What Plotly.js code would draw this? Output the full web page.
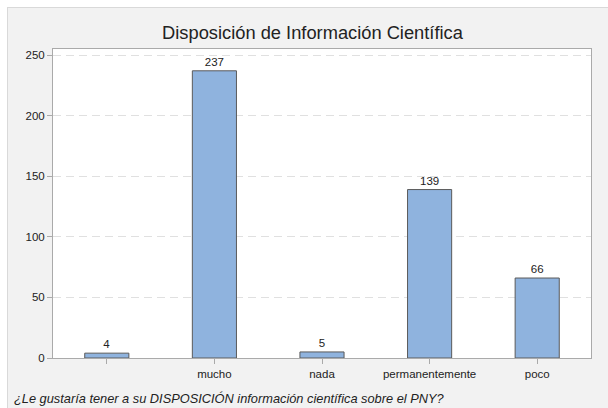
<!DOCTYPE html>
<html><head><meta charset="utf-8">
<script src="https://cdn.plot.ly/plotly-3.0.1.min.js"></script>
<style>
html,body{margin:0;padding:0;background:#fff;width:608px;height:408px;overflow:hidden;}
#wrap{position:absolute;left:7px;top:7px;border-left:1px solid #d9d9d9;border-top:1px solid #d9d9d9;}
#chart{width:600px;height:400px;}
</style></head>
<body><div id="wrap"><div id="chart"></div></div>
<script>
const categories = ["", "mucho", "nada", "permanentemente", "poco"];
const counts = [4, 237, 5, 139, 66];
const yTicks = [0, 50, 100, 150, 200, 250];
const titleText = "Disposición de Información Científica";
const captionText = "¿Le gustaría tener a su DISPOSICIÓN información científica sobre el PNY?";

const xs = categories.map((c, i) => i);
const trace = {
  type: 'bar', x: xs, y: counts, width: 0.41,
  marker: {color: '#8fb3de', line: {color: '#5a5a5a', width: 1}},
  text: counts.map(String), textposition: 'outside', cliponaxis: false,
  textfont: {family: 'Liberation Sans, Arial, sans-serif', size: 11.5, color: '#222'},
  hoverinfo: 'none'
};
const layout = {
  width: 600, height: 400,
  paper_bgcolor: '#f2f2f2', plot_bgcolor: '#ffffff',
  margin: {l: 45, r: 17, t: 41, b: 50},
  showlegend: false,
  font: {family: 'Liberation Sans, Arial, sans-serif', size: 11.5, color: '#222'},
  title: {text: titleText, x: 0.5075, xanchor: 'center', y: 1 - 25/400, yanchor: 'middle', yref: 'container',
          font: {size: 18.3, color: '#222'}},
  xaxis: {range: [-0.5, 4.5], tickvals: xs, ticktext: categories, showgrid: false, zeroline: false,
          showline: true, linecolor: '#aaaaaa', linewidth: 1, mirror: true,
          ticks: 'outside', ticklen: 5, tickcolor: '#aaaaaa', tickfont: {size: 11.5, color: '#222'}},
  yaxis: {range: [0, 255], tickvals: yTicks, showgrid: true, gridcolor: '#e0e0e0', griddash: '8px,5px', gridwidth: 1,
          zeroline: false, showline: true, linecolor: '#aaaaaa', linewidth: 1, mirror: true,
          ticks: 'outside', ticklen: 5, tickcolor: '#aaaaaa', tickfont: {size: 11.5, color: '#222'}},
  annotations: [{text: '<i>' + captionText + '</i>', xref: 'paper', yref: 'paper', x: -41/538, y: -40/309,
                 xanchor: 'left', yanchor: 'middle', showarrow: false,
                 font: {size: 12.8, color: '#222', family: 'Liberation Sans, Arial, sans-serif'}}]
};
Plotly.newPlot('chart', [trace], layout, {displayModeBar: false, staticPlot: true});
</script></body></html>
